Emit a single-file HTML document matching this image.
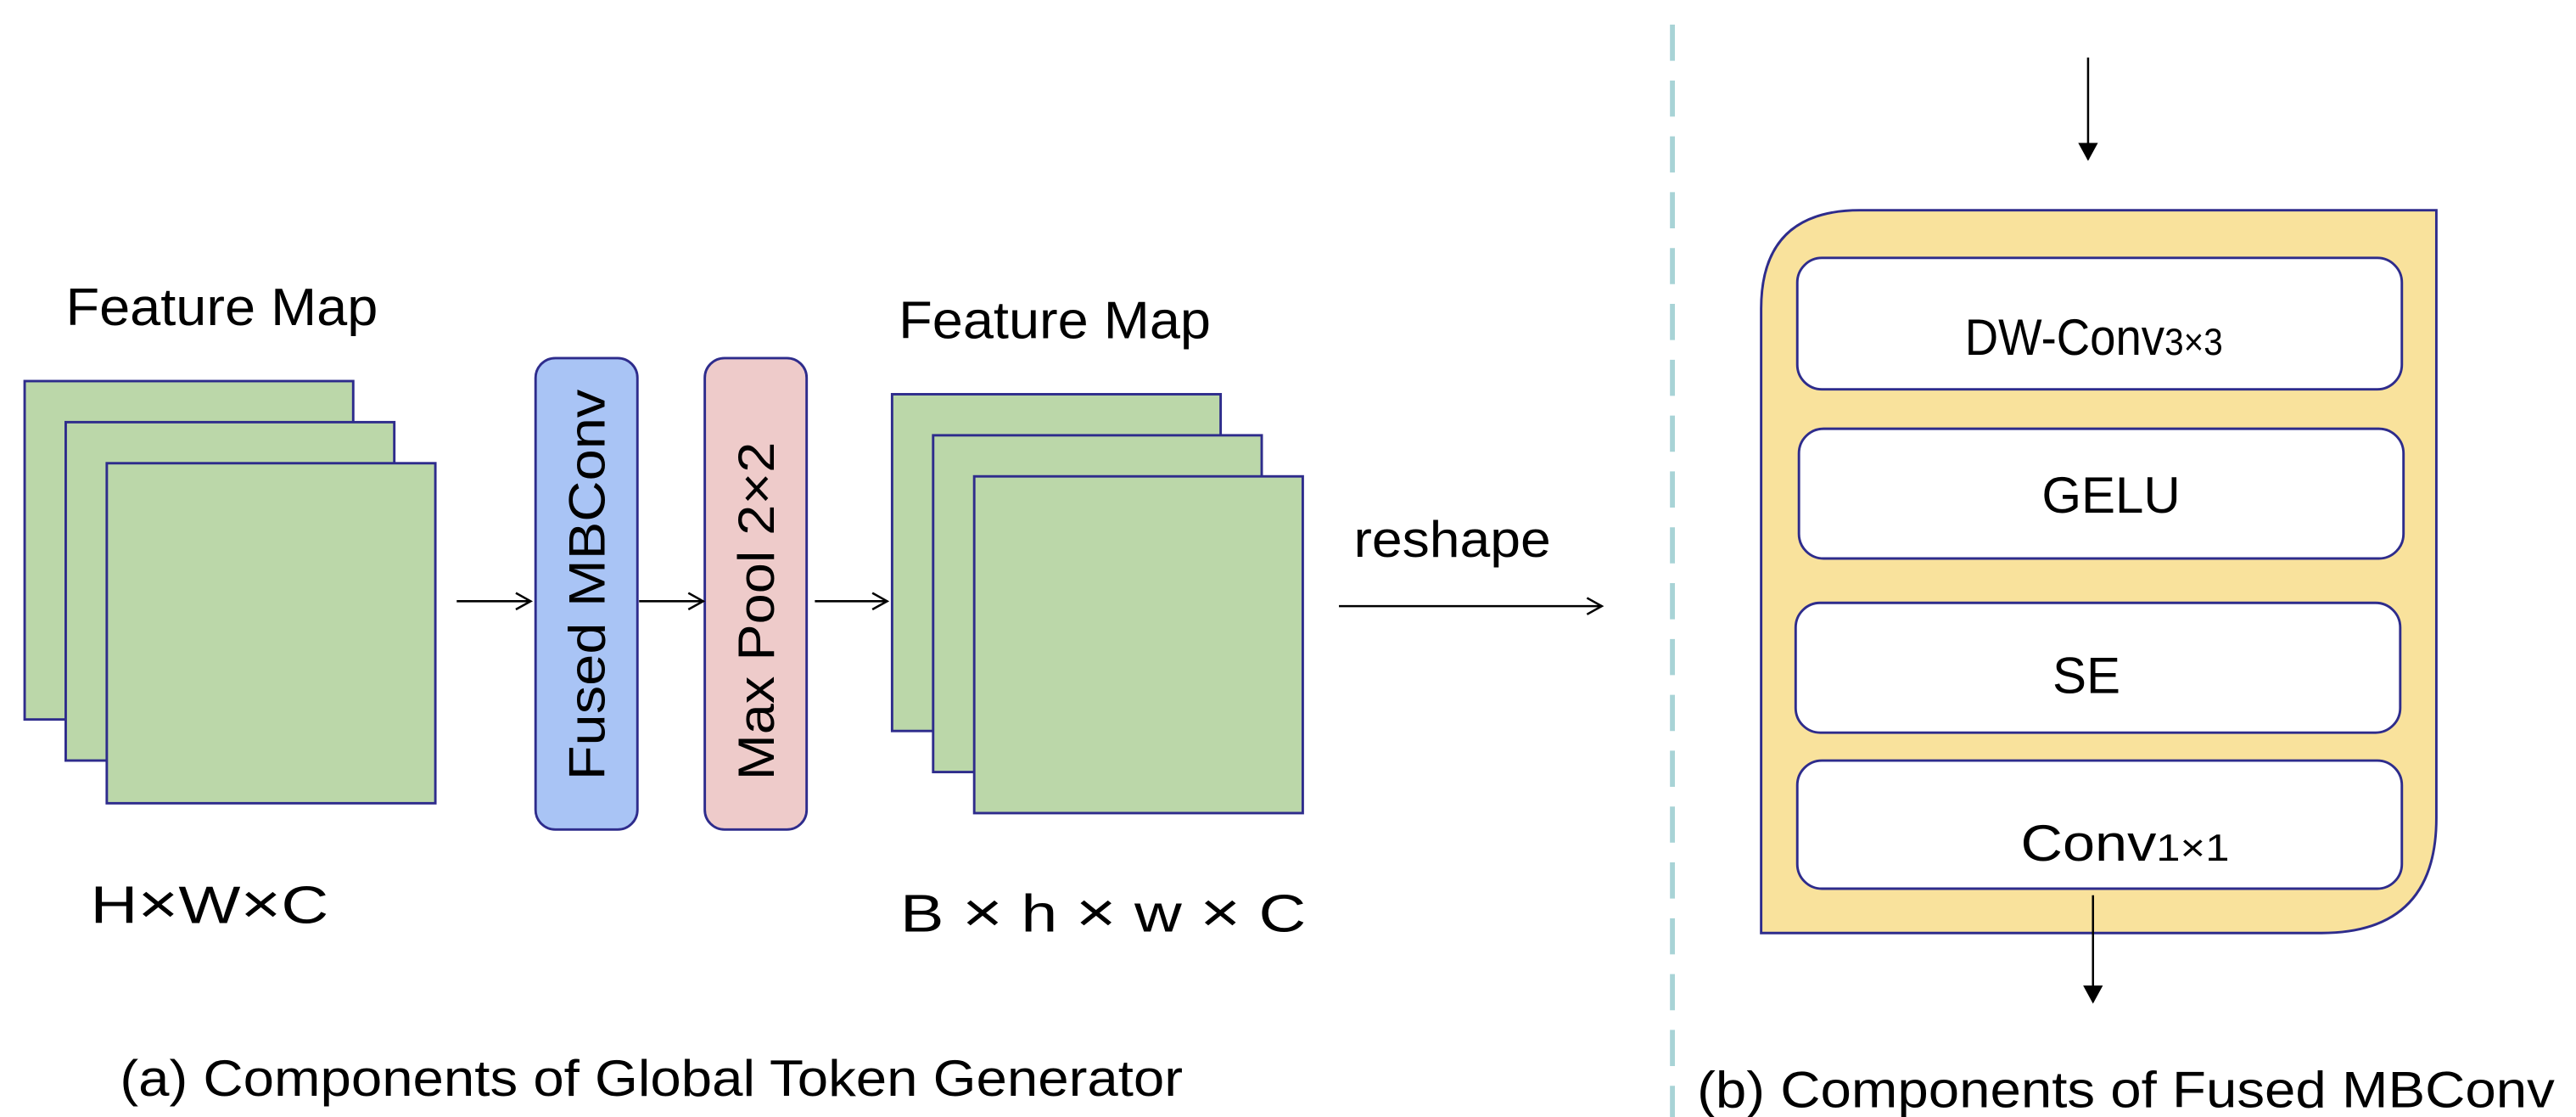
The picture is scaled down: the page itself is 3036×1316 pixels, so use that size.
<!DOCTYPE html>
<html><head><meta charset="utf-8"><style>
html,body{margin:0;padding:0;background:#fff;}
svg{display:block;}
text{font-family:"Liberation Sans",Arial,sans-serif;fill:#000;}
</style></head><body>
<svg width="3036" height="1316" viewBox="0 0 1568 680" preserveAspectRatio="none" xmlns="http://www.w3.org/2000/svg">
<defs>
<marker id="oa" markerWidth="12" markerHeight="12" refX="10" refY="6" orient="auto" markerUnits="userSpaceOnUse">
<path d="M1,1 L10,6 L1,11" fill="none" stroke="#000" stroke-width="1.3"/>
</marker>
<marker id="fa" markerWidth="14" markerHeight="14" refX="7" refY="12" orient="0" markerUnits="userSpaceOnUse">
<path d="M1,2 L13,2 L7,13 Z" fill="#000"/>
</marker>
</defs>
<g stroke="#2E2C8C" stroke-width="1.5" fill="#BBD7A9">
<rect x="15" y="232" width="200" height="206"/>
<rect x="40" y="257" width="200" height="206"/>
<rect x="65" y="282" width="200" height="207"/>
<rect x="543" y="240" width="200" height="205"/>
<rect x="568" y="265" width="200" height="205"/>
<rect x="593" y="290" width="200" height="205"/>
</g>
<rect x="326" y="218" width="62" height="287" rx="12" fill="#A9C4F5" stroke="#2E2C8C" stroke-width="1.5"/>
<rect x="429" y="218" width="62" height="287" rx="12" fill="#EECBCA" stroke="#2E2C8C" stroke-width="1.5"/>
<text transform="translate(368,475) rotate(-90)" font-size="31" textLength="238" lengthAdjust="spacingAndGlyphs">Fused MBConv</text>
<text transform="translate(471,475) rotate(-90)" font-size="31" textLength="206" lengthAdjust="spacingAndGlyphs">Max Pool 2×2</text>
<g stroke="#000" stroke-width="1.3">
<line x1="278" y1="366" x2="323" y2="366" marker-end="url(#oa)"/>
<line x1="389" y1="366" x2="428" y2="366" marker-end="url(#oa)"/>
<line x1="496" y1="366" x2="540" y2="366" marker-end="url(#oa)"/>
<line x1="815" y1="369" x2="975" y2="369" marker-end="url(#oa)"/>
</g>
<text x="40" y="198" font-size="32" textLength="190" lengthAdjust="spacingAndGlyphs">Feature Map</text>
<text x="547" y="206" font-size="32" textLength="190" lengthAdjust="spacingAndGlyphs">Feature Map</text>
<text x="55" y="562" font-size="32" textLength="145" lengthAdjust="spacingAndGlyphs">H<tspan font-size="34">×</tspan>W<tspan font-size="34">×</tspan>C</text>
<text x="548" y="567" font-size="32" textLength="247" lengthAdjust="spacingAndGlyphs">B <tspan font-size="34">×</tspan> h <tspan font-size="34">×</tspan> w <tspan font-size="34">×</tspan> C</text>
<text x="824" y="339" font-size="31" textLength="120" lengthAdjust="spacingAndGlyphs">reshape</text>
<text x="73" y="667" font-size="31" textLength="647" lengthAdjust="spacingAndGlyphs">(a) Components of Global Token Generator</text>
<line x1="1018" y1="15" x2="1018" y2="680" stroke="#A8D3D6" stroke-width="3" stroke-dasharray="22,12"/>
<line x1="1271" y1="35" x2="1271" y2="97" stroke="#000" stroke-width="1.3" marker-end="url(#fa)"/>
<path d="M1132,128 L1483,128 L1483,498 Q1483,568 1413,568 L1072,568 L1072,188 Q1072,128 1132,128 Z" fill="#F9E29C" stroke="#2E2C8C" stroke-width="1.5"/>
<g fill="#fff" stroke="#2E2C8C" stroke-width="1.5">
<rect x="1094" y="157" width="368" height="80" rx="15"/>
<rect x="1095" y="261" width="368" height="79" rx="15"/>
<rect x="1093" y="367" width="368" height="79" rx="15"/>
<rect x="1094" y="463" width="368" height="78" rx="15"/>
</g>
<text x="1196" y="216" font-size="31" textLength="157" lengthAdjust="spacingAndGlyphs">DW-Conv<tspan font-size="23">3×3</tspan></text>
<text x="1285" y="312" font-size="31" text-anchor="middle">GELU</text>
<text x="1270" y="422" font-size="31" text-anchor="middle">SE</text>
<text x="1230" y="524" font-size="31" textLength="127" lengthAdjust="spacingAndGlyphs">Conv<tspan font-size="23">1×1</tspan></text>
<line x1="1274" y1="545" x2="1274" y2="610" stroke="#000" stroke-width="1.3" marker-end="url(#fa)"/>
<text x="1033" y="674" font-size="31" textLength="522" lengthAdjust="spacingAndGlyphs">(b) Components of Fused MBConv</text>
</svg>
</body></html>
